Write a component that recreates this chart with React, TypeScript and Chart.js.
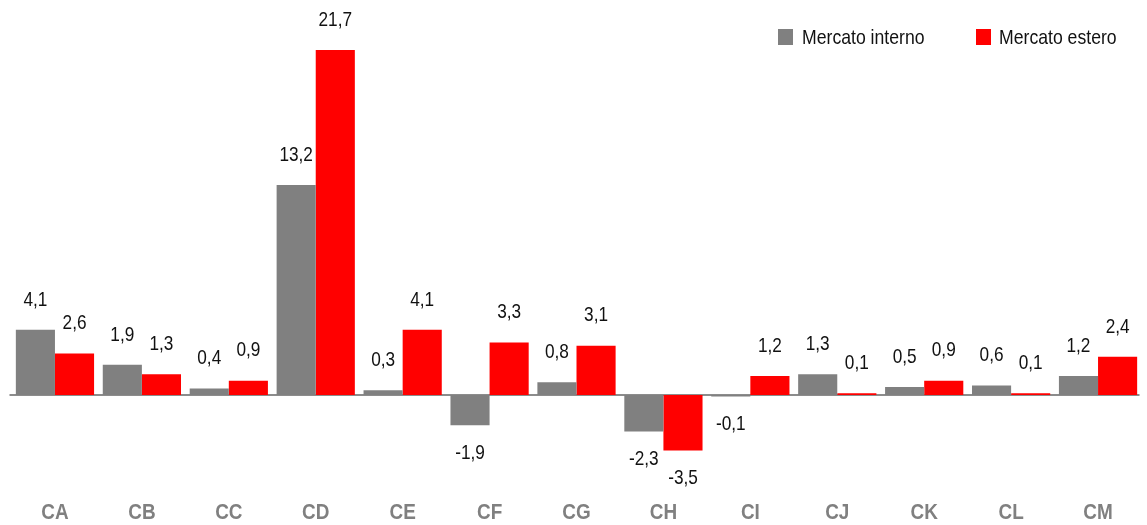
import React, { useEffect, useRef } from "react";
import { Chart, registerables } from "chart.js";

Chart.register(...registerables);

const categories = ["CA", "CB", "CC", "CD", "CE", "CF", "CG", "CH", "CI", "CJ", "CK", "CL", "CM"];
const seriesNames = ["Mercato interno", "Mercato estero"];
const interno = [4.1, 1.9, 0.4, 13.2, 0.3, -1.9, 0.8, -2.3, -0.1, 1.3, 0.5, 0.6, 1.2];
const estero = [2.6, 1.3, 0.9, 21.7, 4.1, 3.3, 3.1, -3.5, 1.2, 0.1, 0.9, 0.1, 2.4];
const colors = ["#808080", "#ff0000"];

const FONT = "'Liberation Sans', Arial, sans-serif";

const fmt = (v: number) => v.toFixed(1).replace(".", ",");

function narrowText(ctx: CanvasRenderingContext2D, text: string, x: number, y: number, sx: number) {
  ctx.save();
  ctx.translate(x, y);
  ctx.scale(sx, 1);
  ctx.fillText(text, 0, 0);
  ctx.restore();
}

const labelsPlugin = {
  id: "customLabels",
  beforeDatasetsDraw(chart: any) {
    const { ctx, chartArea, scales } = chart;
    const y0 = scales.y.getPixelForValue(0);
    ctx.save();
    ctx.strokeStyle = "#8c8c8c";
    ctx.lineWidth = 2;
    ctx.beginPath();
    ctx.moveTo(chartArea.left - 2, y0);
    ctx.lineTo(chartArea.right - 2, y0);
    ctx.stroke();
    ctx.restore();
  },
  afterDatasetsDraw(chart: any) {
    const { ctx, chartArea, scales } = chart;
    ctx.save();
    ctx.font = `21px ${FONT}`;
    ctx.fillStyle = "#111111";
    ctx.textAlign = "center";
    ctx.textBaseline = "middle";
    chart.data.datasets.forEach((ds: any, i: number) => {
      const meta = chart.getDatasetMeta(i);
      meta.data.forEach((el: any, j: number) => {
        const v = ds.data[j];
        const y = v >= 0 ? el.y - 30 : el.y + 28;
        narrowText(ctx, fmt(v), el.x, y, 0.82);
      });
    });
    // category labels
    ctx.font = `bold 22px ${FONT}`;
    ctx.fillStyle = "#808080";
    categories.forEach((c, i) => {
      narrowText(ctx, c, scales.x.getPixelForTick(i), chartArea.bottom + 10, 0.86);
    });
    // legend
    const items = [
      { x: 778, tx: 802 },
      { x: 976, tx: 999 },
    ];
    ctx.font = `21px ${FONT}`;
    ctx.textAlign = "left";
    items.forEach((it, i) => {
      ctx.fillStyle = colors[i];
      ctx.fillRect(it.x, 29, 15, 16);
      ctx.fillStyle = "#111111";
      narrowText(ctx, seriesNames[i], it.tx, 38, 0.84);
    });
    ctx.restore();
  },
};

export default function App() {
  const ref = useRef<HTMLCanvasElement>(null);
  useEffect(() => {
    document.body.style.margin = "0";
    const chart = new Chart(ref.current!, {
      type: "bar",
      data: {
        labels: categories,
        datasets: [
          { label: seriesNames[0], data: interno, backgroundColor: colors[0], categoryPercentage: 0.9, barPercentage: 1.0 },
          { label: seriesNames[1], data: estero, backgroundColor: colors[1], categoryPercentage: 0.9, barPercentage: 1.0 },
        ],
      },
      options: {
        animation: false,
        responsive: true,
        maintainAspectRatio: false,
        layout: { padding: { left: 11.5, right: 5.5, top: 50, bottom: 0 } },
        plugins: { legend: { display: false }, tooltip: { enabled: false } },
        scales: {
          x: {
            grid: { display: false, drawTicks: false },
            border: { display: false },
            ticks: { color: "rgba(0,0,0,0)", padding: 1, font: { family: FONT, size: 19, weight: "bold", lineHeight: 1.05 } },
          },
          y: { display: false, min: -6.8, max: 21.7 },
        },
      },
      plugins: [labelsPlugin],
    });
    return () => chart.destroy();
  }, []);
  return (
    <div style={{ position: "fixed", left: 0, top: 0, width: 1147, height: 525 }}>
      <canvas ref={ref} />
    </div>
  );
}
